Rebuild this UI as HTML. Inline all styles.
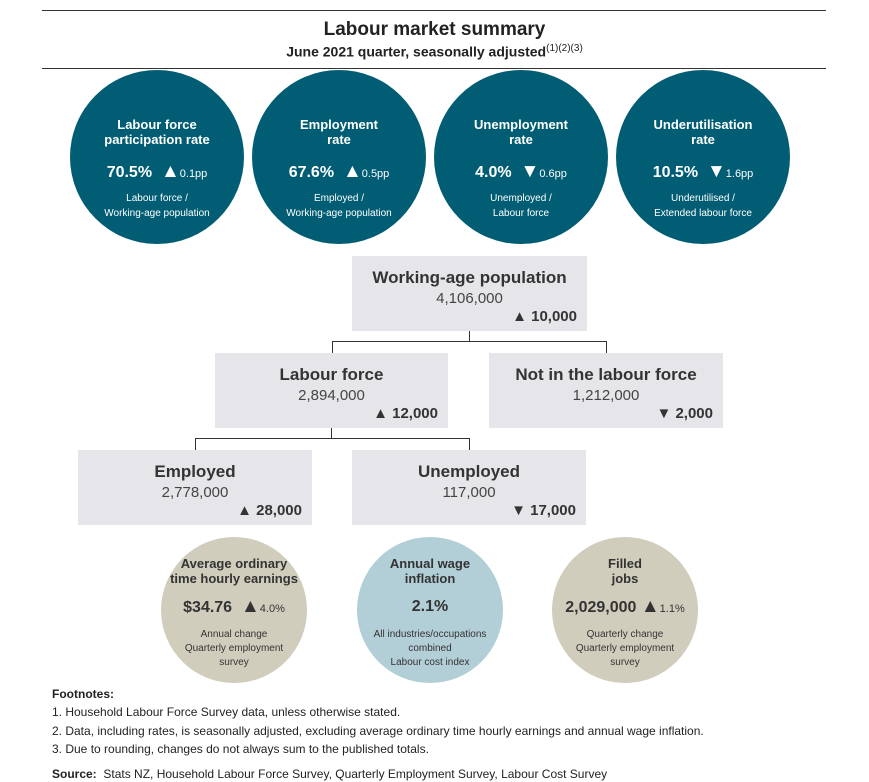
<!DOCTYPE html>
<html><head><meta charset="utf-8"><style>
body{margin:0;width:869px;height:782px;background:#fff;font-family:"Liberation Sans",sans-serif;position:relative;overflow:hidden;color:#222}
.a{position:absolute}
.c{position:absolute;border-radius:50%;text-align:center;color:#fff}
.t{background:#015d73}
.c .h{font-weight:bold;font-size:13px;line-height:15px}
.c .v{font-weight:bold;font-size:16px;margin-top:14px}
.c .v i{font-style:normal;font-size:19px;font-weight:normal}
.c .v small{font-weight:normal;font-size:11px}
.c .s{font-size:10px;line-height:15px;margin-top:8px}
.box{position:absolute;background:#e6e6ea;text-align:center}
.box .h{font-weight:bold;font-size:17px;margin-top:12px;color:#333}
.box .n{font-size:15px;color:#444;margin-top:2px}
.box .d{position:absolute;right:10px;bottom:6px;font-weight:bold;font-size:15px;color:#333}
.ln{position:absolute;background:#333}
.b{color:#333}
.fn{position:absolute;left:52px;font-size:12px;color:#222}
</style></head><body>
<div class="ln" style="left:42px;top:10px;width:784px;height:1px"></div>
<div class="a" style="left:0;width:869px;top:19px;text-align:center;font-weight:bold;font-size:19px;color:#222">Labour market summary</div>
<div class="a" style="left:0;width:869px;top:43px;text-align:center;font-weight:bold;font-size:14px;color:#222">June 2021 quarter, seasonally adjusted<sup style="font-weight:normal;font-size:10px">(1)(2)(3)</sup></div>
<div class="ln" style="left:42px;top:68px;width:784px;height:1px"></div>

<div class="c t" style="left:70px;top:70px;width:174px;height:174px"><div class="h" style="margin-top:47px">Labour force<br>participation rate</div><div class="v">70.5% &nbsp;<i>▲</i><small>0.1pp</small></div><div class="s">Labour force /<br>Working-age population</div></div>
<div class="c t" style="left:252px;top:70px;width:174px;height:174px"><div class="h" style="margin-top:47px">Employment<br>rate</div><div class="v">67.6% &nbsp;<i>▲</i><small>0.5pp</small></div><div class="s">Employed /<br>Working-age population</div></div>
<div class="c t" style="left:434px;top:70px;width:174px;height:174px"><div class="h" style="margin-top:47px">Unemployment<br>rate</div><div class="v">4.0% &nbsp;<i>▼</i><small>0.6pp</small></div><div class="s">Unemployed /<br>Labour force</div></div>
<div class="c t" style="left:616px;top:70px;width:174px;height:174px"><div class="h" style="margin-top:47px">Underutilisation<br>rate</div><div class="v">10.5% &nbsp;<i>▼</i><small>1.6pp</small></div><div class="s">Underutilised /<br>Extended labour force</div></div>

<div class="box" style="left:352px;top:256px;width:235px;height:75px"><div class="h">Working-age population</div><div class="n">4,106,000</div><div class="d">▲ 10,000</div></div>
<div class="ln" style="left:469px;top:331px;width:1px;height:10px"></div>
<div class="ln" style="left:332px;top:341px;width:275px;height:1px"></div>
<div class="ln" style="left:332px;top:341px;width:1px;height:12px"></div>
<div class="ln" style="left:606px;top:341px;width:1px;height:12px"></div>
<div class="box" style="left:215px;top:353px;width:233px;height:75px"><div class="h">Labour force</div><div class="n">2,894,000</div><div class="d">▲ 12,000</div></div>
<div class="box" style="left:489px;top:353px;width:234px;height:75px"><div class="h">Not in the labour force</div><div class="n">1,212,000</div><div class="d">▼ 2,000</div></div>
<div class="ln" style="left:331px;top:428px;width:1px;height:10px"></div>
<div class="ln" style="left:195px;top:438px;width:275px;height:1px"></div>
<div class="ln" style="left:195px;top:438px;width:1px;height:12px"></div>
<div class="ln" style="left:469px;top:438px;width:1px;height:12px"></div>
<div class="box" style="left:78px;top:450px;width:234px;height:75px"><div class="h">Employed</div><div class="n">2,778,000</div><div class="d">▲ 28,000</div></div>
<div class="box" style="left:352px;top:450px;width:234px;height:75px"><div class="h">Unemployed</div><div class="n">117,000</div><div class="d">▼ 17,000</div></div>

<div class="c b" style="left:161px;top:537px;width:146px;height:146px;background:#d1cdbd"><div class="h" style="margin-top:19px">Average ordinary<br>time hourly earnings</div><div class="v" style="margin-top:10px">$34.76 &nbsp;<i>▲</i><small>4.0%</small></div><div class="s" style="margin-top:10px;line-height:14px">Annual change<br>Quarterly employment<br>survey</div></div>
<div class="c b" style="left:357px;top:537px;width:146px;height:146px;background:#b2ced6"><div class="h" style="margin-top:19px">Annual wage<br>inflation</div><div class="v" style="margin-top:12px">2.1%</div><div class="s" style="margin-top:12px;line-height:14px">All industries/occupations<br>combined<br>Labour cost index</div></div>
<div class="c b" style="left:552px;top:537px;width:146px;height:146px;background:#d1cdbd"><div class="h" style="margin-top:19px">Filled<br>jobs</div><div class="v" style="margin-top:10px">2,029,000 <i>▲</i><small>1.1%</small></div><div class="s" style="margin-top:10px;line-height:14px">Quarterly change<br>Quarterly employment<br>survey</div></div>

<div class="fn" style="top:687px;font-weight:bold">Footnotes:</div>
<div class="fn" style="top:705px">1. Household Labour Force Survey data, unless otherwise stated.</div>
<div class="fn" style="top:724px">2. Data, including rates, is seasonally adjusted, excluding average ordinary time hourly earnings and annual wage inflation.</div>
<div class="fn" style="top:742px">3. Due to rounding, changes do not always sum to the published totals.</div>
<div class="fn" style="top:767px"><b>Source:</b>&nbsp; Stats NZ, Household Labour Force Survey, Quarterly Employment Survey, Labour Cost Survey</div>
</body></html>
